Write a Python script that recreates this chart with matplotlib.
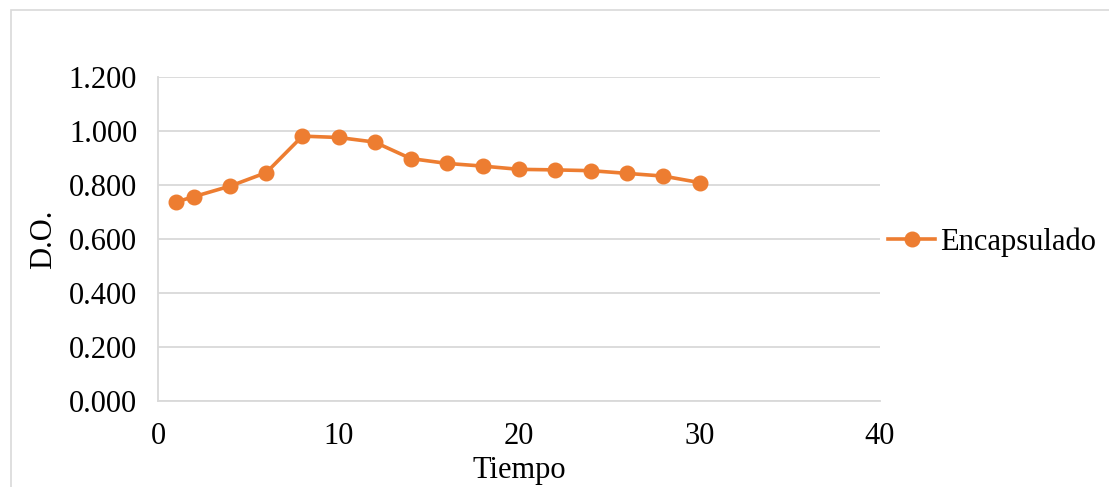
import matplotlib
matplotlib.use("Agg")
import matplotlib.pyplot as plt
from matplotlib.patches import Rectangle

# datos
tiempo = [1, 2, 4, 6, 8, 10, 12, 14, 16, 18, 20, 22, 24, 26, 28, 30]
do_encapsulado = [0.737, 0.757, 0.796, 0.846, 0.981, 0.976, 0.959, 0.898,
                  0.880, 0.870, 0.858, 0.856, 0.853, 0.843, 0.833, 0.809]
y_ticks = [0.0, 0.2, 0.4, 0.6, 0.8, 1.0, 1.2]
x_ticks = [0, 10, 20, 30, 40]

plt.rcParams['font.family'] = ['Liberation Serif', 'DejaVu Serif']

fig = plt.figure(figsize=(11.09, 4.87), dpi=100)
ax = fig.add_axes([158 / 1109, 1 - 401 / 487, 722 / 1109, 324 / 487])

# marco exterior del gráfico
fig.patches.append(Rectangle((11 / 1109, -0.01), 1.2, 1 - 10 / 487 + 0.01,
                             transform=fig.transFigure, fill=False,
                             edgecolor='#d9d9d9', linewidth=1.2))

ax.plot(tiempo, do_encapsulado, color='#ED7D31', linewidth=2.6,
        marker='o', markersize=10.5, label='Encapsulado')

ax.set_xlim(0, 40)
ax.set_ylim(0, 1.2)
ax.set_xticks(x_ticks)
ax.set_yticks(y_ticks)
ax.set_yticklabels([f"{v:.3f}" for v in y_ticks])
ax.tick_params(length=0, labelsize=22)
ax.tick_params(axis='y', pad=15)
ax.tick_params(axis='x', pad=15)

ax.grid(axis='y', color='#d9d9d9', linewidth=1.3)
ax.set_axisbelow(True)
for side in ['top', 'right']:
    ax.spines[side].set_visible(False)
for side in ['left', 'bottom']:
    ax.spines[side].set_color('#d9d9d9')
    ax.spines[side].set_linewidth(1.3)

ax.set_xlabel('Tiempo', fontsize=22, labelpad=4)
ax.set_ylabel('D.O.', fontsize=22, labelpad=8)

ax.legend(loc='center left', bbox_to_anchor=(1 + 8 / 722, 0.49), frameon=False,
          fontsize=22, handlelength=1.55, handletextpad=0.15,
          borderaxespad=0, borderpad=0)

fig.savefig('out.png', dpi=100)
